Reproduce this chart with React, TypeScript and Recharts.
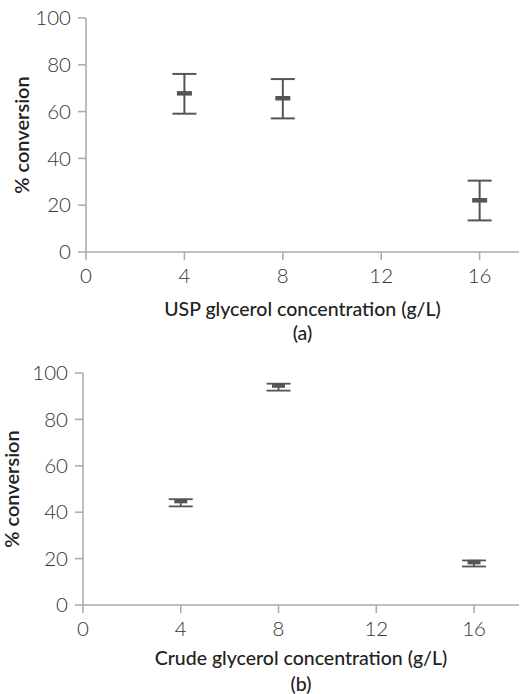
import React from 'react';
import { ScatterChart, Scatter, XAxis, YAxis, ErrorBar, Label } from 'recharts';

// Panel (a): USP glycerol
const concA = [4, 8, 16];
const meanA = [67.8, 65.7, 22.1];
const errA: [number, number][] = [[8.7, 8.3], [8.6, 8.2], [8.6, 8.4]];

// Panel (b): Crude glycerol
const concB = [4, 8, 16];
const meanB = [44.8, 94.6, 18.5];
const errB: [number, number][] = [[2.3, 0.8], [2.2, 0.8], [1.9, 0.7]];

const xTicks = [0, 4, 8, 12, 16];
const yTicks = [0, 20, 40, 60, 80, 100];

const xLabelA = 'USP glycerol concentration (g/L)';
const xLabelB = 'Crude glycerol concentration (g/L)';
const yLabel = '% conversion';

const dataA = concA.map((x, i) => ({ x, y: meanA[i], err: errA[i] }));
const dataB = concB.map((x, i) => ({ x, y: meanB[i], err: errB[i] }));

const FONT = "Lato, 'Open Sans', 'Liberation Sans', sans-serif";
const AXIS = '#aaaaaa';
const MARK = '#555555';
const TEXT = '#333333';

const tickStyle = { fontSize: 20.5, fill: TEXT, fontFamily: FONT, fontWeight: 300 };

const makeBar = (w: number, h: number) => (props: any) => {
  const { cx, cy } = props;
  return <rect x={cx - w / 2} y={cy - h / 2} width={w} height={h} fill={MARK} />;
};

function Panel({ data, height, top, plotH, yWidth, xMax, xLabel, sub, labelX, lab1, lab2, barW, capW, capSW }: any) {
  return (
    <ScatterChart width={520} height={height} margin={{ top, right: 1, bottom: 0, left: 0 }}>
      <XAxis
        type="number"
        dataKey="x"
        domain={[0, xMax]}
        ticks={xTicks}
        allowDataOverflow
        height={height - top - plotH}
        tick={tickStyle}
        tickSize={8}
        tickMargin={8}
        stroke={AXIS}
        strokeWidth={1.5}
        tickLine={{ stroke: AXIS, strokeWidth: 1.5 }}
      >
        <Label
          content={({ viewBox }: any) => {
            const cx = viewBox.x + viewBox.width / 2;
            return (
              <g fontFamily={FONT} fontSize={19.5} fontWeight={500}>
                <text x={cx} y={viewBox.y + lab1} textAnchor="middle" fill="#222">{xLabel}</text>
                <text x={cx} y={viewBox.y + lab2} textAnchor="middle" fill="#222">{sub}</text>
              </g>
            );
          }}
        />
      </XAxis>
      <YAxis
        type="number"
        dataKey="y"
        domain={[0, 100]}
        ticks={yTicks}
        width={yWidth}
        tick={tickStyle}
        tickSize={8}
        tickMargin={7}
        stroke={AXIS}
        strokeWidth={1.5}
        tickLine={{ stroke: AXIS, strokeWidth: 1.5 }}
      >
        <Label
          content={({ viewBox }: any) => {
            const cy = viewBox.y + viewBox.height / 2;
            return (
              <text
                x={labelX}
                y={cy}
                transform={`rotate(-90 ${labelX} ${cy})`}
                textAnchor="middle"
                dominantBaseline="central"
                fontFamily={FONT}
                fontSize={20}
                fontWeight={600}
                fill="#222"
              >
                {yLabel}
              </text>
            );
          }}
        />
      </YAxis>
      <Scatter data={data} isAnimationActive={false} shape={makeBar(barW, 4.5)}>
        <ErrorBar dataKey="err" direction="y" width={capW} strokeWidth={capSW} stroke={MARK} isAnimationActive={false} />
      </Scatter>
    </ScatterChart>
  );
}

export default function App() {
  return (
    <div style={{ position: 'absolute', left: 0, top: 0, width: 520, height: 694, background: '#fff', overflow: 'hidden' }}>
      <div style={{ position: 'absolute', left: 0, top: 0 }}>
        <Panel data={dataA} height={350} top={18} plotH={234} yWidth={86} xMax={17.6} xLabel={xLabelA} sub="(a)" labelX={21} lab1={64} lab2={88} barW={15} capW={12} capSW={2} />
      </div>
      <div style={{ position: 'absolute', left: 0, top: 340 }}>
        <Panel data={dataB} height={354} top={33} plotH={232} yWidth={83} xMax={17.84} xLabel={xLabelB} sub="(b)" labelX={11} lab1={60} lab2={86} barW={13} capW={12} capSW={1.8} />
      </div>
    </div>
  );
}
